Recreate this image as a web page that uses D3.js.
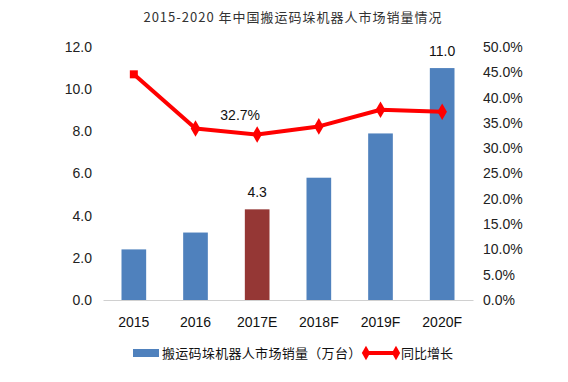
<!DOCTYPE html>
<html><head><meta charset="utf-8">
<script src="https://cdn.jsdelivr.net/npm/d3@7"></script>
<style>body{margin:0;background:#fff}svg{display:block}</style>
</head><body>
<script>
const categories = ["2015","2016","2017E","2018F","2019F","2020F"];
const sales = [2.4, 3.2, 4.3, 5.8, 7.9, 11.0];
const growth = [0.446, 0.339, 0.327, 0.343, 0.376, 0.372];
const leftTicks = [0,2,4,6,8,10,12];
const rightTicks = [0,0.05,0.1,0.15,0.2,0.25,0.3,0.35,0.4,0.45,0.5];
const title = "2015-2020 年中国搬运码垛机器人市场销量情况";
const legendLabels = ["搬运码垛机器人市场销量（万台）","同比增长"];

(function(){
const W=568,H=382;
const svg=d3.select("body").append("svg").attr("width",W).attr("height",H);
const pL=103,pR=473,pT=47,pB=300;
const x=d3.scaleBand().domain(categories).range([pL,pR]).paddingInner(0.6).paddingOuter(0.3);
const yL=d3.scaleLinear().domain([0,12]).range([pB,pT]);
const yR=d3.scaleLinear().domain([0,0.5]).range([pB,pT]);
const font="'Liberation Sans',Arial,sans-serif";

svg.append("text").attr("x",293).attr("y",22).attr("text-anchor","middle")
  .attr("font-family","'Noto Sans CJK SC',sans-serif").attr("font-size",13).attr("letter-spacing",1).attr("fill","#333").text(title);

const gl=svg.append("g").attr("transform",`translate(${pL-11},0)`)
  .call(d3.axisLeft(yL).tickValues(leftTicks).tickFormat(d3.format(".1f")).tickSize(0).tickPadding(0));
gl.select(".domain").remove();
gl.selectAll("text").attr("font-family",font).attr("font-size",14).attr("fill","#222");
const gr=svg.append("g").attr("transform",`translate(${pR+10},0)`)
  .call(d3.axisRight(yR).tickValues(rightTicks).tickFormat(d3.format(".1%")).tickSize(0).tickPadding(0));
gr.select(".domain").remove();
gr.selectAll("text").attr("font-family",font).attr("font-size",14).attr("fill","#222");
const gx=svg.append("g").attr("transform",`translate(0,${pB})`)
  .call(d3.axisBottom(x).tickSize(0).tickPadding(17));
gx.select(".domain").attr("stroke","#d0d0d0");
gx.selectAll("text").attr("font-family",font).attr("font-size",14).attr("fill","#111");

svg.selectAll("rect.bar").data(sales).enter().append("rect").attr("class","bar")
  .attr("x",(d,i)=>x(categories[i])).attr("width",x.bandwidth())
  .attr("y",d=>yL(d)).attr("height",d=>pB-yL(d))
  .attr("fill",(d,i)=>i===2?"#953735":"#4f81bd");

[2,5].forEach(i=>{
  svg.append("text").attr("x",x(categories[i])+x.bandwidth()/2).attr("y",yL(sales[i])-12.5)
   .attr("text-anchor","middle").attr("font-family",font).attr("font-size",14).attr("fill","#111")
   .text(d3.format(".1f")(sales[i]));
});

const cx=(i)=>x(categories[i])+x.bandwidth()/2;
svg.append("path").datum(growth).attr("fill","none").attr("stroke","#ff0000").attr("stroke-width",4)
  .attr("stroke-linejoin","round")
  .attr("d",d3.line().x((d,i)=>cx(i)).y(d=>yR(d)));
svg.selectAll("path.mk").data(growth).enter().append("path").attr("class","mk")
  .attr("transform",(d,i)=>`translate(${cx(i)},${yR(d)})`)
  .attr("d",(d,i)=>i===0?d3.symbol(d3.symbolSquare,64)():d3.symbol(d3.symbolDiamond,80)())
  .attr("fill","#ff0000");
svg.append("text").attr("x",cx(2)-17).attr("y",yR(growth[2])-15).attr("text-anchor","middle")
  .attr("font-family",font).attr("font-size",14).attr("fill","#111").text(d3.format(".1%")(growth[2]));

const ly=353;
svg.append("rect").attr("x",133).attr("y",ly-4).attr("width",26).attr("height",8).attr("fill","#4f81bd");
svg.append("text").attr("x",162).attr("y",ly+5).attr("font-family","'Noto Sans CJK SC',sans-serif").attr("font-size",13).attr("letter-spacing",0.3).attr("fill","#111").text(legendLabels[0]);
svg.append("line").attr("x1",366).attr("x2",396).attr("y1",ly).attr("y2",ly).attr("stroke","#ff0000").attr("stroke-width",4);
[366,396].forEach(px=>svg.append("path").attr("transform",`translate(${px},${ly})`).attr("d",d3.symbol(d3.symbolDiamond,60)()).attr("fill","#ff0000"));
svg.append("text").attr("x",401).attr("y",ly+5).attr("font-family","'Noto Sans CJK SC',sans-serif").attr("font-size",13).attr("fill","#111").text(legendLabels[1]);
})();
</script>
</body></html>
